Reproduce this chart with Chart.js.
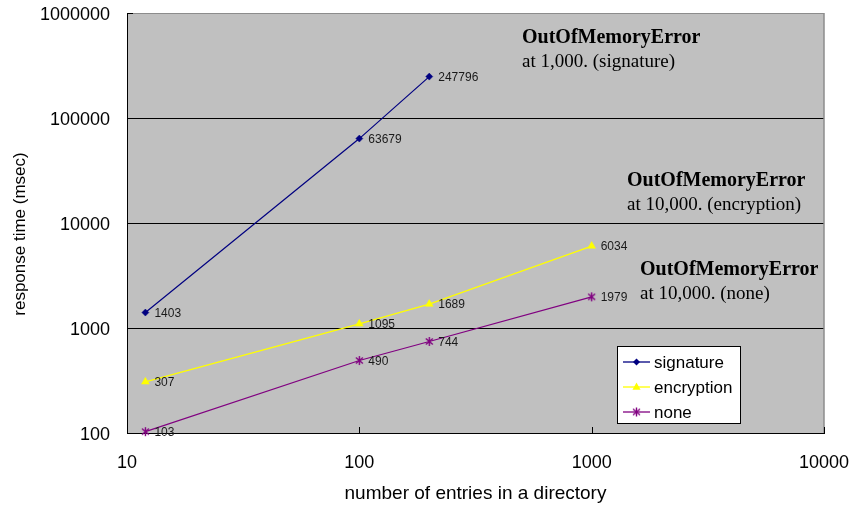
<!DOCTYPE html>
<html>
<head>
<meta charset="utf-8">
<title>Directory response time</title>
<script src="https://cdn.jsdelivr.net/npm/chart.js@4/dist/chart.umd.min.js"></script>
<style>
  html, body { margin: 0; padding: 0; background: #fff; }
  #wrap { width: 852px; height: 506px; }
</style>
</head>
<body>
<div id="wrap"><canvas id="c" width="852" height="506"></canvas></div>
<script>
// Number of entries in the directory (x) and measured response times in msec (y)
const entries = [12, 100, 200, 1000];
const signatureMs = [1403, 63679, 247796];
const encryptionMs = [307, 1095, 1689, 6034];
const noneMs = [103, 490, 744, 1979];
const seriesNames = ['signature', 'encryption', 'none'];

// Decade ticks on both logarithmic axes
const xTicks = [10, 100, 1000, 10000];
const xTickLabels = ['10', '100', '1000', '10000'];
const yTicks = [100, 1000, 10000, 100000, 1000000];
const yTickLabels = ['100', '1000', '10000', '100000', '1000000'];
const yAxisTitle = 'response time (msec)';

// Notes about where each run failed
const noteTitles = ['OutOfMemoryError', 'OutOfMemoryError', 'OutOfMemoryError'];
const noteDetails = ['at 1,000. (signature)', 'at 10,000. (encryption)', 'at 10,000. (none)'];

const SANS = '"Liberation Sans", Arial, sans-serif';
const SERIF = '"Liberation Serif", "Times New Roman", serif';

function pairs(values) {
  return values.map((v, i) => ({ x: entries[i], y: v }));
}

// Asterisk-like marker: an X crossed by a vertical stroke
function starMark(color) {
  const c = document.createElement('canvas');
  c.width = 11; c.height = 11;
  const g = c.getContext('2d');
  g.strokeStyle = color;
  g.lineWidth = 1.4;
  g.beginPath();
  g.moveTo(2, 2.5); g.lineTo(9, 8.5);
  g.moveTo(9, 2.5); g.lineTo(2, 8.5);
  g.moveTo(5.5, 1); g.lineTo(5.5, 10);
  g.stroke();
  return c;
}

// Keep the plot edges where the layout padding puts them
function noLabelOverhang(s) {
  s.paddingLeft = 0; s.paddingRight = 0; s.paddingTop = 0; s.paddingBottom = 0;
}

// Grey plotting area with a light frame on the top and right edges
const plotFrame = {
  id: 'plotFrame',
  beforeDraw(chart) {
    const { ctx, chartArea: a } = chart;
    ctx.save();
    ctx.fillStyle = '#c0c0c0';
    ctx.fillRect(a.left, a.top, a.right - a.left, a.bottom - a.top);
    ctx.restore();
  },
  beforeDatasetsDraw(chart) {
    const { ctx, chartArea: a, scales } = chart;
    ctx.save();
    ctx.strokeStyle = '#8c8c8c';
    ctx.lineWidth = 1.5;
    ctx.beginPath();
    ctx.moveTo(a.right, a.top);
    ctx.lineTo(a.right, a.bottom);
    ctx.stroke();
    // tick marks pointing into the plot
    ctx.strokeStyle = '#000';
    ctx.lineWidth = 1;
    ctx.beginPath();
    xTicks.forEach(v => {
      const px = Math.round(scales.x.getPixelForValue(v)) + 0.5;
      ctx.moveTo(px, a.bottom);
      ctx.lineTo(px, a.bottom - 6);
    });
    yTicks.forEach(v => {
      const py = Math.round(scales.y.getPixelForValue(v)) + 0.5;
      ctx.moveTo(a.left, py);
      ctx.lineTo(a.left + 6, py);
    });
    ctx.stroke();
    // vertical axis title, set a little below the middle of the plot
    ctx.fillStyle = '#000';
    ctx.font = '17px ' + SANS;
    ctx.textAlign = 'center';
    ctx.textBaseline = 'middle';
    ctx.translate(20, (a.top + a.bottom) / 2 + 11);
    ctx.rotate(-Math.PI / 2);
    ctx.fillText(yAxisTitle, 0, 0);
    ctx.restore();
  }
};

// Value labels to the right of each point
const pointValues = {
  id: 'pointValues',
  afterDatasetsDraw(chart) {
    const { ctx } = chart;
    ctx.save();
    ctx.font = '12px ' + SANS;
    ctx.fillStyle = '#1a1a1a';
    ctx.textAlign = 'left';
    ctx.textBaseline = 'middle';
    chart.data.datasets.forEach((ds, di) => {
      const meta = chart.getDatasetMeta(di);
      meta.data.forEach((pt, i) => {
        ctx.fillText(String(ds.data[i].y), pt.x + 9, pt.y + 1);
      });
    });
    ctx.restore();
  }
};

// Serif notes placed inside the plot
const failureNotes = {
  id: 'failureNotes',
  afterDatasetsDraw(chart) {
    const { ctx } = chart;
    const spots = [
      { x: 522, y: 43 },
      { x: 627, y: 186 },
      { x: 640, y: 275 }
    ];
    ctx.save();
    ctx.fillStyle = '#000';
    ctx.textAlign = 'left';
    ctx.textBaseline = 'alphabetic';
    spots.forEach((s, i) => {
      ctx.font = 'bold 20px ' + SERIF;
      ctx.fillText(noteTitles[i], s.x, s.y);
      ctx.font = '19px ' + SERIF;
      ctx.fillText(noteDetails[i], s.x, s.y + 24);
    });
    ctx.restore();
  }
};

function drawMarker(ctx, ds, x, y) {
  const style = ds.pointStyle;
  const r = ds.pointRadius;
  if (style instanceof HTMLCanvasElement) {
    ctx.drawImage(style, x - style.width / 2, y - style.height / 2);
    return;
  }
  ctx.beginPath();
  if (style === 'rectRot') {
    ctx.moveTo(x, y - r); ctx.lineTo(x + r, y); ctx.lineTo(x, y + r); ctx.lineTo(x - r, y);
  } else if (style === 'triangle') {
    ctx.moveTo(x, y - r); ctx.lineTo(x + r * 0.9, y + r * 0.6); ctx.lineTo(x - r * 0.9, y + r * 0.6);
  }
  ctx.closePath();
  ctx.fillStyle = ds.pointBackgroundColor;
  ctx.fill();
}

// Boxed legend sitting in the lower right of the plot
const boxLegend = {
  id: 'boxLegend',
  afterDraw(chart) {
    const { ctx } = chart;
    const left = 617, top = 346, w = 123, h = 77;
    ctx.save();
    ctx.fillStyle = '#fff';
    ctx.fillRect(left, top, w, h);
    ctx.strokeStyle = '#000';
    ctx.lineWidth = 1;
    ctx.strokeRect(left + 0.5, top + 0.5, w, h);
    ctx.font = '17px ' + SANS;
    ctx.textBaseline = 'middle';
    ctx.textAlign = 'left';
    chart.data.datasets.forEach((ds, i) => {
      const y = top + 16 + i * 25;
      ctx.strokeStyle = ds.borderColor;
      ctx.lineWidth = 1.3;
      ctx.beginPath();
      ctx.moveTo(left + 6, y);
      ctx.lineTo(left + 33, y);
      ctx.stroke();
      drawMarker(ctx, ds, left + 19.5, y);
      ctx.fillStyle = '#000';
      ctx.fillText(ds.label, left + 37, y + 1);
    });
    ctx.restore();
  }
};

const colors = ['#000080', '#ffff00', '#800080'];

new Chart(document.getElementById('c'), {
  type: 'line',
  data: {
    datasets: [
      {
        label: seriesNames[0], data: pairs(signatureMs),
        borderColor: colors[0], backgroundColor: colors[0], borderWidth: 1.2,
        pointStyle: 'rectRot', pointRadius: 3.5, pointBackgroundColor: colors[0], pointBorderColor: colors[0], pointBorderWidth: 0.5,
        clip: false, tension: 0
      },
      {
        label: seriesNames[1], data: pairs(encryptionMs),
        borderColor: colors[1], backgroundColor: colors[1], borderWidth: 1.3,
        pointStyle: 'triangle', pointRadius: 4.5, pointBackgroundColor: colors[1], pointBorderColor: colors[1], pointBorderWidth: 0.5,
        clip: false, tension: 0
      },
      {
        label: seriesNames[2], data: pairs(noneMs),
        borderColor: colors[2], backgroundColor: colors[2], borderWidth: 1.2,
        pointStyle: starMark(colors[2]), pointRadius: 5, pointBackgroundColor: colors[2], pointBorderColor: colors[2],
        clip: false, tension: 0
      }
    ]
  },
  options: {
    responsive: false,
    animation: false,
    devicePixelRatio: 1,
    layout: { padding: { top: 13, right: 28, left: 0, bottom: 0 } },
    plugins: { legend: { display: false }, tooltip: { enabled: false } },
    scales: {
      x: {
        type: 'logarithmic', position: 'bottom', min: 10, max: 10000,
        afterBuildTicks: s => { s.ticks = xTicks.map(v => ({ value: v })); },
        afterFit: s => { s.height = 73; noLabelOverhang(s); },
        ticks: {
          callback: (v) => xTickLabels[xTicks.indexOf(v)] ?? '',
          font: { family: SANS, size: 18 }, color: '#000', padding: 19,
          autoSkip: false, maxRotation: 0
        },
        grid: { display: false, drawTicks: false },
        border: { display: true, color: '#000', width: 1 },
        title: {
          display: true, text: 'number of entries in a directory',
          font: { family: SANS, size: 19 }, color: '#000', padding: { top: 0, bottom: 1 }
        }
      },
      y: {
        type: 'logarithmic', position: 'left', min: 100, max: 1000000,
        afterBuildTicks: s => { s.ticks = yTicks.map(v => ({ value: v })); },
        afterFit: s => { s.width = 127; noLabelOverhang(s); },
        ticks: {
          callback: (v) => yTickLabels[yTicks.indexOf(v)] ?? '',
          font: { family: SANS, size: 18 }, color: '#000', padding: 17,
          labelOffset: 2, autoSkip: false
        },
        grid: {
          drawTicks: false, lineWidth: 1,
          color: c => (c.tick && c.tick.value === 1000000) ? '#8c8c8c' : '#000'
        },
        border: { display: true, color: '#000', width: 1 },
        title: { display: false }
      }
    }
  },
  plugins: [plotFrame, pointValues, failureNotes, boxLegend]
});
</script>
</body>
</html>
